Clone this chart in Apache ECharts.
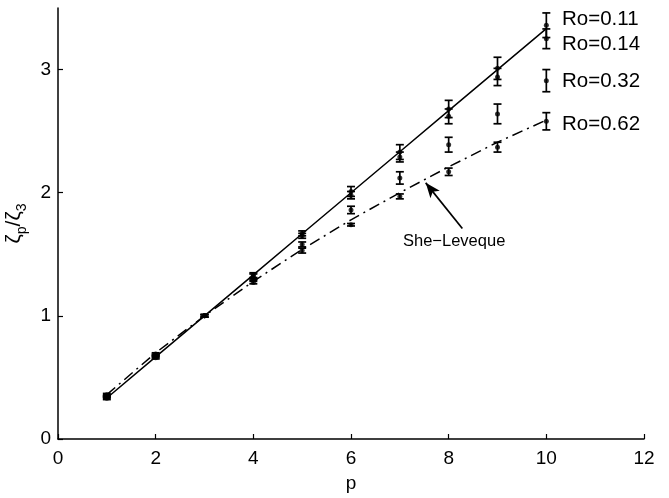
<!DOCTYPE html>
<html>
<head>
<meta charset="utf-8">
<script src="https://cdn.jsdelivr.net/npm/echarts@6/dist/echarts.min.js"></script>
<style>
  html, body { margin: 0; padding: 0; background: #fff; }
  #chart { width: 669px; height: 498px; }
</style>
</head>
<body>
<div id="chart"></div>
<script>
// Order p of the structure function
const pValues = [1, 2, 3, 4, 5, 6, 7, 8, 9, 10];

// Measured scaling exponent ratios zeta_p / zeta_3 and their uncertainties
const ro011 = [0.36, 0.69, 1.00, 1.33, 1.67, 2.01, 2.33, 2.68, 3.01, 3.36];
const err011 = [0.01, 0.01, 0.01, 0.02, 0.02, 0.04, 0.06, 0.07, 0.09, 0.10];
const ro014 = [0.35, 0.68, 1.00, 1.32, 1.65, 1.98, 2.29, 2.62, 2.94, 3.25];
const err014 = [0.01, 0.01, 0.01, 0.02, 0.02, 0.03, 0.04, 0.06, 0.07, 0.08];
const ro032 = [0.34, 0.67, 1.00, 1.30, 1.58, 1.86, 2.12, 2.39, 2.64, 2.91];
const err032 = [0.01, 0.01, 0.01, 0.01, 0.02, 0.03, 0.05, 0.06, 0.08, 0.09];
const ro062 = [0.33, 0.66, 1.00, 1.27, 1.53, 1.74, 1.97, 2.17, 2.37, 2.58];
const err062 = [0.01, 0.01, 0.01, 0.01, 0.02, 0.01, 0.02, 0.03, 0.04, 0.07];

// Reference curves: K41 (p/3) and She-Leveque
const k41 = [0.333, 0.667, 1.000, 1.333, 1.667, 2.000, 2.333, 2.667, 3.000, 3.333];
const sheLeveque = [0.36, 0.70, 1.00, 1.28, 1.54, 1.78, 2.00, 2.21, 2.41, 2.59];

// Axis ticks
const xTicks = [0, 2, 4, 6, 8, 10, 12];
const yTicks = [0, 1, 2, 3];

const seriesSets = [
  { name: 'Ro=0.11', values: ro011, errors: err011 },
  { name: 'Ro=0.14', values: ro014, errors: err014 },
  { name: 'Ro=0.32', values: ro032, errors: err032 },
  { name: 'Ro=0.62', values: ro062, errors: err062 }
];

const FONT = '"Liberation Sans", Arial, Helvetica, sans-serif';

function errorBarRenderer(params, api) {
  const x = api.value(0);
  const lo = api.coord([x, api.value(1)]);
  const hi = api.coord([x, api.value(2)]);
  const hw = 4;
  const style = { stroke: '#000', lineWidth: 1.7 };
  return {
    type: 'group',
    children: [
      { type: 'line', shape: { x1: lo[0], y1: lo[1], x2: hi[0], y2: hi[1] }, style },
      { type: 'line', shape: { x1: lo[0] - hw, y1: lo[1], x2: lo[0] + hw, y2: lo[1] }, style },
      { type: 'line', shape: { x1: hi[0] - hw, y1: hi[1], x2: hi[0] + hw, y2: hi[1] }, style }
    ]
  };
}

const series = [];

series.push({
  type: 'line',
  name: 'K41',
  data: pValues.map((p, i) => [p, k41[i]]),
  showSymbol: false,
  lineStyle: { color: '#000', width: 1.5, type: 'solid' },
  z: 2
});

series.push({
  type: 'line',
  name: 'She-Leveque',
  data: pValues.map((p, i) => [p, sheLeveque[i]]),
  showSymbol: false,
  lineStyle: { color: '#000', width: 1.5, type: [11, 5, 2, 5] },
  z: 2,
  markLine: {
    silent: true,
    symbol: ['none', 'arrow'],
    symbolSize: [9, 15],
    lineStyle: { color: '#000', width: 1.7, type: 'solid' },
    label: { show: false },
    data: [[{ coord: [8.28, 1.71] }, { coord: [7.53, 2.08] }]]
  }
});

seriesSets.forEach(s => {
  series.push({
    type: 'custom',
    name: s.name + ' error',
    renderItem: errorBarRenderer,
    data: pValues.map((p, i) => [p, s.values[i] - s.errors[i], s.values[i] + s.errors[i]]),
    encode: { x: 0, y: [1, 2] },
    z: 3
  });
  series.push({
    type: 'scatter',
    name: s.name,
    data: pValues.map((p, i) => [p, s.values[i]]),
    symbol: 'circle',
    symbolSize: 5,
    itemStyle: { color: '#000' },
    z: 4
  });
});

const chart = echarts.init(document.getElementById('chart'), null, { renderer: 'canvas' });

chart.setOption({
  backgroundColor: '#fff',
  animation: false,
  textStyle: { fontFamily: FONT },
  grid: { left: 58, right: 25, top: 8, bottom: 59, containLabel: false, outerBoundsMode: 'none' },
  xAxis: {
    type: 'value',
    min: 0,
    max: 12,
    interval: 2,
    name: 'p',
    nameLocation: 'middle',
    nameGap: 35,
    nameTextStyle: { fontFamily: FONT, fontSize: 19, color: '#000' },
    axisLine: { show: true, lineStyle: { color: '#000', width: 1.5 } },
    axisTick: { show: true, inside: true, length: 5, lineStyle: { color: '#000', width: 1.2 }, customValues: xTicks },
    axisLabel: { color: '#000', fontSize: 19, fontFamily: FONT, margin: 10, customValues: xTicks },
    splitLine: { show: false }
  },
  yAxis: {
    type: 'value',
    min: 0,
    max: 3.5,
    interval: 0.5,
    name: '{z|ζ}{s|p}{z|/ζ}{s|3}',
    nameLocation: 'middle',
    nameGap: 26,
    nameRotate: 90,
    nameTextStyle: {
      color: '#000',
      rich: {
        z: { fontFamily: FONT, fontSize: 21, color: '#000', verticalAlign: 'bottom', padding: [0, 0, 5, 0] },
        s: { fontFamily: FONT, fontSize: 14, color: '#000', verticalAlign: 'bottom' }
      }
    },
    axisLine: { show: true, lineStyle: { color: '#000', width: 1.5 } },
    axisTick: { show: true, inside: true, length: 5, lineStyle: { color: '#000', width: 1.2 }, customValues: yTicks },
    axisLabel: { color: '#000', fontSize: 19, fontFamily: FONT, margin: 7, customValues: yTicks },
    splitLine: { show: false }
  },
  graphic: [
    { type: 'text', left: 562, top: 9, style: { text: 'Ro=0.11', font: '20.5px ' + FONT, fill: '#000' } },
    { type: 'text', left: 562, top: 34, style: { text: 'Ro=0.14', font: '20.5px ' + FONT, fill: '#000' } },
    { type: 'text', left: 562, top: 71, style: { text: 'Ro=0.32', font: '20.5px ' + FONT, fill: '#000' } },
    { type: 'text', left: 562, top: 114, style: { text: 'Ro=0.62', font: '20.5px ' + FONT, fill: '#000' } },
    { type: 'text', left: 403, top: 233, style: { text: 'She\u2212Leveque', font: '16.5px ' + FONT, fill: '#000' } }
  ],
  series
});
</script>
</body>
</html>
